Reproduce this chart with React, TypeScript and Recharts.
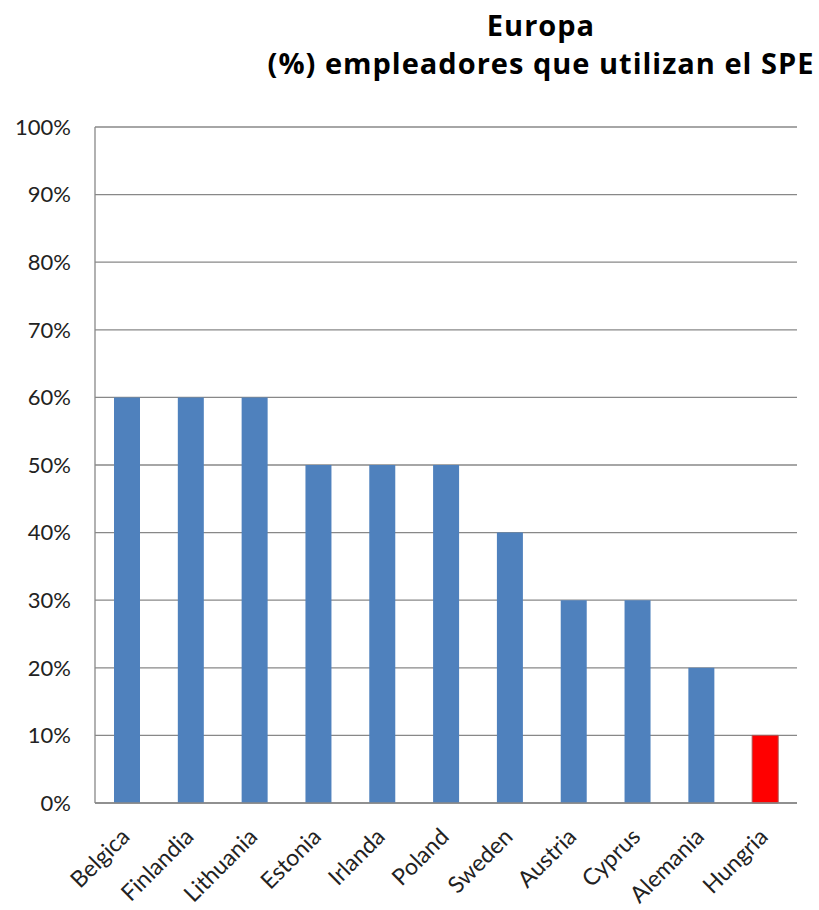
import React from "react";
import { BarChart, Bar, XAxis, YAxis, CartesianGrid, Cell } from "recharts";

const countries = ["Belgica", "Finlandia", "Lithuania", "Estonia", "Irlanda", "Poland", "Sweden", "Austria", "Cyprus", "Alemania", "Hungria"];
const values = [60, 60, 60, 50, 50, 50, 40, 30, 30, 20, 10];
const barColors = ["#4F81BD", "#4F81BD", "#4F81BD", "#4F81BD", "#4F81BD", "#4F81BD", "#4F81BD", "#4F81BD", "#4F81BD", "#4F81BD", "#FF0000"];
const yTicks = [0, 10, 20, 30, 40, 50, 60, 70, 80, 90, 100];
const titleLines = ["Europa", "(%) empleadores que utilizan el SPE"];

const data = countries.map((c, i) => ({ name: c, value: values[i], color: barColors[i] }));

const FONT = "Lato, 'Open Sans', sans-serif";
const TITLE_FONT = "'Open Sans', Lato, sans-serif";

const XTick = (props: any) => {
  const { x, y, payload } = props;
  return (
    <g transform={`translate(${x},${y + 23})`}>
      <text transform="rotate(-45)" textAnchor="end" fontSize={23} fill="#222" fontFamily={FONT} dy={6}>
        {payload.value}
      </text>
    </g>
  );
};

export default function App() {
  return (
    <div style={{ position: "absolute", left: 0, top: 0, width: 819, height: 910, background: "#fff" }}>
      <div style={{ position: "absolute", left: 0, top: 6, width: 1082, textAlign: "center", fontFamily: TITLE_FONT, fontWeight: 700, fontSize: 29, letterSpacing: 1, lineHeight: "38px", color: "#000" }}>
        {titleLines.map((t) => (
          <div key={t}>{t}</div>
        ))}
      </div>
      <BarChart width={819} height={910} data={data} margin={{ top: 127, right: 22, bottom: 77, left: 0 }}>
        <CartesianGrid vertical={false} stroke="#888" strokeWidth={1.3} />
        <XAxis dataKey="name" interval={0} tickLine={false} axisLine={{ stroke: "#888", strokeWidth: 1.3 }} tick={<XTick />} />
        <YAxis
          width={95}
          domain={[0, 100]}
          ticks={yTicks}
          tickFormatter={(v: number) => `${v}%`}
          tickLine={false}
          tickSize={0}
          tickMargin={24}
          axisLine={{ stroke: "#888", strokeWidth: 1.3 }}
          tick={{ fontSize: 22, fill: "#222", fontFamily: FONT }}
        />
        <Bar dataKey="value" barSize={26} isAnimationActive={false}>
          {data.map((d, i) => (
            <Cell key={i} fill={d.color} stroke={i === data.length - 1 ? "#B0504E" : "none"} strokeWidth={1} />
          ))}
        </Bar>
      </BarChart>
    </div>
  );
}
